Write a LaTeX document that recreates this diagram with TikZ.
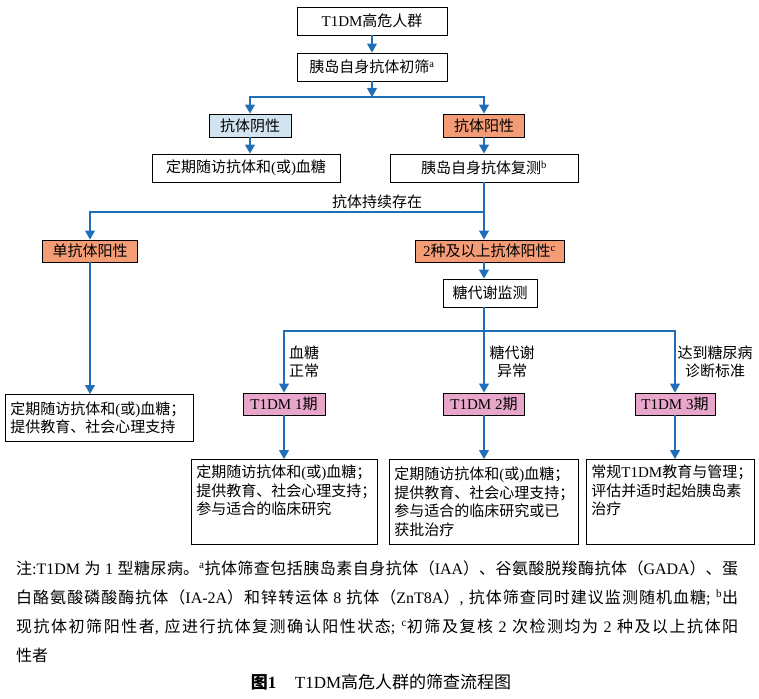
\documentclass[tikz,border=0pt]{standalone}
\usepackage{fontspec}
\setmainfont{Liberation Serif}
\newfontfamily\cjk{Noto Sans CJK SC}
\usetikzlibrary{arrows.meta}

% Chinese characters get the CJK face, everything else stays serif
\XeTeXinterchartokenstate=1
\chardef\hanclass=7
\newcount\hanchar
\newcommand\sethan[2]{\hanchar=#1\relax
  \loop\XeTeXcharclass\hanchar=\hanclass
  \ifnum\hanchar<#2\advance\hanchar by 1\repeat}
\sethan{"4E00}{"9FFF}
\sethan{"3000}{"303F}
\sethan{"FF00}{"FFEF}
\XeTeXinterchartoks 0 \hanclass = {\cjk}
\XeTeXinterchartoks 4095 \hanclass = {\cjk}
\XeTeXinterchartoks \hanclass 0 = {\rmfamily}
\XeTeXinterchartoks \hanclass 4095 = {\rmfamily}

\definecolor{flowblue}{RGB}{30,110,185}
\definecolor{negfill}{RGB}{210,228,240}
\definecolor{posfill}{RGB}{243,156,118}
\definecolor{stagefill}{RGB}{232,166,202}
\newcommand\flowfont{\fontsize{15}{18.5}\selectfont}
\newcommand\notefont{\fontsize{16}{28.7}\selectfont
  \XeTeXlinebreaklocale "zh"\XeTeXlinebreakskip=0pt plus 2pt}

\begin{document}
\begin{tikzpicture}[x=1pt,y=-1pt,
	box/.style={draw,line width=0.9pt,inner sep=2pt,minimum height=28pt,font=\flowfont},
	tag/.style={box,minimum height=22pt},
	care/.style={draw,line width=0.9pt,anchor=north west,align=left,inner xsep=5pt,inner ysep=5pt,font=\flowfont},
	lab/.style={inner sep=0pt,font=\flowfont},
	flow/.style={flowblue,line width=1.1pt,-{Triangle[width=10pt,length=9pt]}},
	link/.style={flowblue,line width=1.1pt}]
	\useasboundingbox (0,0) rectangle (759,698);
	\node[box,minimum width=150pt] (high) at (372,21) {T1DM高危人群};
	\node[box,minimum width=150pt] (first) at (372,67) {胰岛自身抗体初筛\textsuperscript{a}};
	\node[tag,fill=negfill,minimum width=82pt,minimum height=23pt] (neg) at (250,125.5) {抗体阴性};
	\node[tag,fill=posfill,minimum width=81pt,minimum height=23pt] (pos) at (484,125.5) {抗体阳性};
	\node[box,minimum width=188pt] (negcare) at (246,168) {定期随访抗体和(或)血糖};
	\node[box,minimum width=188pt] (retest) at (484,168) {胰岛自身抗体复测\textsuperscript{b}};
	\node[tag,fill=posfill,minimum width=95pt] (single) at (90,251) {单抗体阳性};
	\node[tag,fill=posfill,minimum width=149pt] (multi) at (489.5,251) {2种及以上抗体阳性\textsuperscript{c}};
	\node[box,minimum width=94pt] (glucose) at (490,293) {糖代谢监测};
	\node[tag,fill=stagefill,minimum width=82pt] (stage1) at (284,404) {T1DM 1期};
	\node[tag,fill=stagefill,minimum width=81pt] (stage2) at (484,404) {T1DM 2期};
	\node[tag,fill=stagefill,minimum width=80pt] (stage3) at (675,404) {T1DM 3期};
	\node[care,text width=178pt,minimum height=47pt] (singlecare) at (5,394)
		{定期随访抗体和(或)血糖；\\提供教育、社会心理支持};
	\node[care,text width=176pt,minimum height=85pt] (care1) at (191,459)
		{定期随访抗体和(或)血糖；\\提供教育、社会心理支持；\\参与适合的临床研究\\\strut};
	\node[care,text width=179pt,minimum height=85pt] (care2) at (389,459)
		{定期随访抗体和(或)血糖；\\提供教育、社会心理支持；\\参与适合的临床研究或已\\获批治疗};
	\node[care,text width=158pt,minimum height=85pt] (care3) at (586,459)
		{常规T1DM教育与管理；\\评估并适时起始胰岛素\\治疗\\\strut};
	\coordinate (split1) at (372,97);
	\coordinate (split2) at (484,212);
	\coordinate (split3) at (484,331);
	\node[lab] (persist) at (377,202) {抗体持续存在};
	\node[lab,anchor=west,align=left] (normal) at (289,362) {血糖\\正常};
	\node[lab,align=center] (abnormal) at (512,362) {糖代谢\\异常};
	\node[lab,align=center] (diag) at (715,362) {达到糖尿病\\诊断标准};
	\draw[flow] (high) -- (first);
	\draw[flow] (first) -- (split1);
	\draw[flow] (split1) -| (neg);
	\draw[flow] (split1) -| (pos);
	\draw[flow] (neg) -- (neg.south |- negcare.north);
	\draw[flow] (pos) -- (retest);
	\draw[link] (retest) -- (split2);
	\draw[flow] (split2) -| (single);
	\draw[flow] (split2) -- (split2 |- multi.north);
	\draw[flow] (split2 |- multi.south) -- (split2 |- glucose.north);
	\draw[link] (split2 |- glucose.south) -- (split3);
	\draw[flow] (split3) -| (stage1);
	\draw[flow] (split3) -- (stage2);
	\draw[flow] (split3) -| (stage3);
	\draw[flow] (single) -- (single.south |- singlecare.north);
	\draw[flow] (stage1) -- (stage1.south |- care1.north);
	\draw[flow] (stage2) -- (stage2.south |- care2.north);
	\draw[flow] (stage3) -- (stage3.south |- care3.north);
	\node[anchor=north west,text width=722pt,align=justify,inner sep=0pt,font=\notefont] (notes) at (16,561)
		{注:T1DM 为 1 型糖尿病。\textsuperscript{a}抗体筛查包括胰岛素自身抗体（IAA）、谷氨酸脱羧酶抗体（GADA）、蛋\linebreak
		白酪氨酸磷酸酶抗体（IA-2A）和锌转运体 8 抗体（ZnT8A）, 抗体筛查同时建议监测随机血糖; \textsuperscript{b}出\linebreak
		现抗体初筛阳性者, 应进行抗体复测确认阳性状态; \textsuperscript{c}初筛及复核 2 次检测均为 2 种及以上抗体阳\linebreak
		性者};
	\node[font=\fontsize{17}{20}\selectfont] (caption) at (381,682) {{\bfseries 图1}\hspace{1.1em}T1DM高危人群的筛查流程图};
\end{tikzpicture}
\end{document}
